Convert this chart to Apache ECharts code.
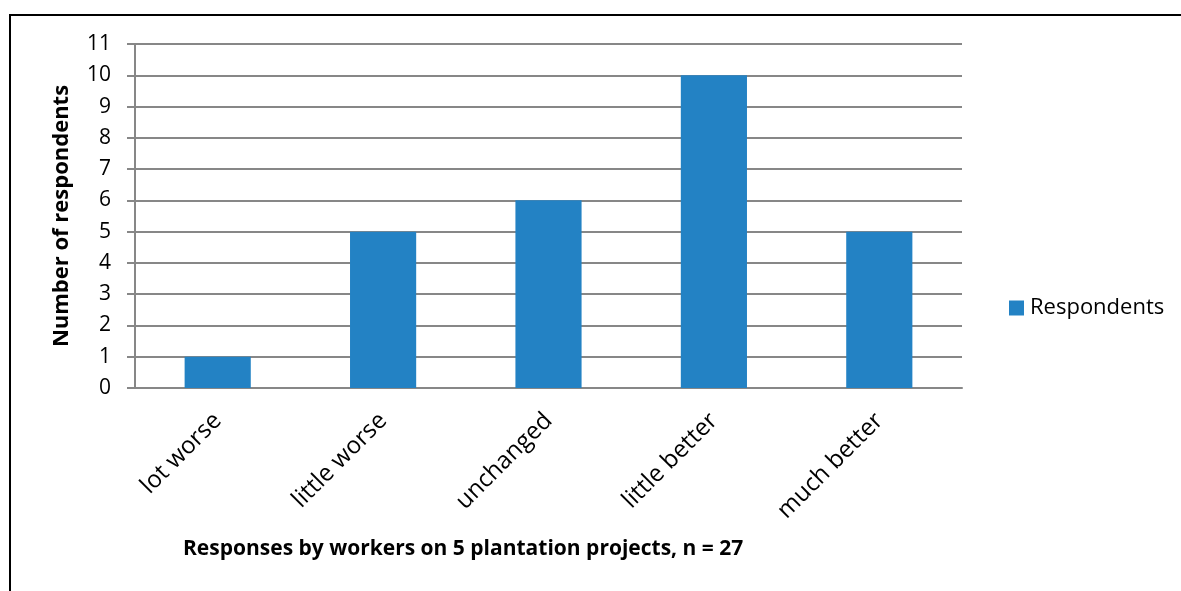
<!DOCTYPE html>
<html><head><meta charset="utf-8">
<script src="https://cdn.jsdelivr.net/npm/echarts@6/dist/echarts.min.js"></script>
<style>html,body{margin:0;padding:0;background:#fff}#c{width:1181px;height:591px}</style>
</head><body><div id="c"></div>
<script>
const categories = ['lot worse', 'little worse', 'unchanged', 'little better', 'much better'];
const respondents = [1, 5, 6, 10, 5];
const yTicks = [0, 1, 2, 3, 4, 5, 6, 7, 8, 9, 10, 11];
const seriesName = 'Respondents';
const yName = 'Number of respondents';
const xName = 'Responses by workers on 5 plantation projects, n = 27';

const font = 'Open Sans';
const chart = echarts.init(document.getElementById('c'));
chart.setOption({
  animation: false,
  textStyle: { fontFamily: font },
  graphic: [
    { type: 'line', shape: { x1: 9, y1: 15, x2: 1181, y2: 15 }, style: { stroke: '#000', lineWidth: 2 } },
    { type: 'line', shape: { x1: 10, y1: 15, x2: 10, y2: 591 }, style: { stroke: '#000', lineWidth: 2 } },
    { type: 'text', x: 183, y: 549, style: { text: xName, font: 'bold 21px "Open Sans"', fill: '#000', textVerticalAlign: 'middle' } }
  ],
  legend: {
    data: [seriesName], left: 1004, top: 292, itemWidth: 15, itemHeight: 15, itemGap: 8,
    icon: 'rect',
    textStyle: { fontSize: 22, color: '#000', fontFamily: font, padding: [0, 0, 0, 1] }
  },
  grid: { left: 135, right: 219, top: 44, bottom: 203, containLabel: false },
  xAxis: {
    type: 'category', data: categories,
    axisLine: { lineStyle: { color: '#878787', width: 2 } },
    axisTick: { show: false },
    axisLabel: { rotate: 45, fontSize: 24, color: '#000', margin: 29, interval: 0, fontFamily: font }
  },
  yAxis: {
    type: 'value', min: 0, max: 11, interval: 1,
    name: yName, nameLocation: 'middle', nameGap: 62, nameRotate: 90,
    nameTextStyle: { fontSize: 22, fontWeight: 'bold', color: '#000', fontFamily: font },
    axisLine: { show: true, lineStyle: { color: '#878787', width: 2 } },
    axisTick: { show: true, length: 8, lineStyle: { color: '#878787', width: 2 } },
    splitLine: { lineStyle: { color: '#878787', width: 2 } },
    axisLabel: { fontSize: 21, color: '#000', margin: 24, fontFamily: font,
      formatter: v => yTicks.includes(v) ? String(v) : '' }
  },
  series: [{
    name: seriesName, type: 'bar', data: respondents, barWidth: '40%',
    itemStyle: { color: '#2382C4' }
  }]
});
</script></body></html>
